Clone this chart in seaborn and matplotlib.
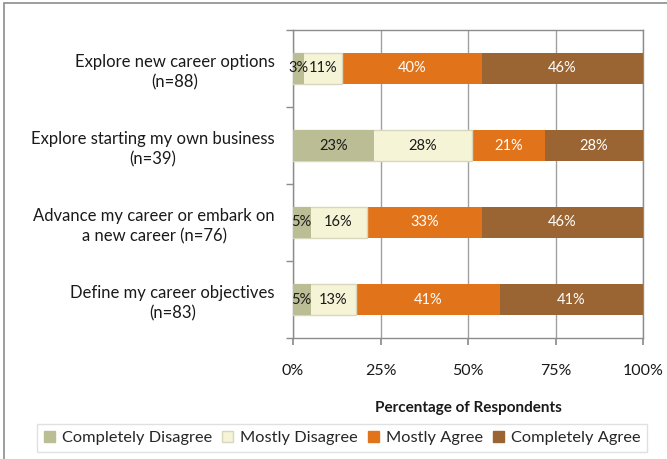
import numpy as np
import pandas as pd
import matplotlib
matplotlib.use('Agg')
import matplotlib.pyplot as plt
import seaborn as sns
from matplotlib.patches import Rectangle

# data
categories = [
    'Explore new career options\n(n=88)',
    'Explore starting my own business\n(n=39)',
    'Advance my career or embark on\na new career (n=76)',
    'Define my career objectives\n(n=83)',
]
responses = ['Completely Disagree', 'Mostly Disagree', 'Mostly Agree', 'Completely Agree']
completely_disagree = [3, 23, 5, 5]
mostly_disagree = [11, 28, 16, 13]
mostly_agree = [40, 21, 33, 41]
completely_agree = [46, 28, 46, 41]
x_ticks = [0, 25, 50, 75, 100]

colors = ['#BBBE94', '#F5F4D6', '#E1731B', '#9A6533']
text_colors = ['#1A1A1A', '#1A1A1A', 'white', 'white']

sns.set_theme(style='white')
plt.rcParams['font.family'] = ['Lato', 'DejaVu Sans']

df = pd.DataFrame({
    'category': categories,
    responses[0]: completely_disagree,
    responses[1]: mostly_disagree,
    responses[2]: mostly_agree,
    responses[3]: completely_agree,
})
cum = df[responses].cumsum(axis=1)

fig = plt.figure(figsize=(6.67, 4.59), dpi=100)
ax = fig.add_axes([293 / 667, 1 - 338 / 459, 350 / 667, 308 / 459])

# stacked bars: draw cumulative totals from the widest layer down
for i in range(len(responses) - 1, -1, -1):
    edge = '#D8D7BE' if i == 1 else 'none'
    sns.barplot(x=cum[responses[i]], y=df['category'], orient='h', color=colors[i],
                width=0.4, ax=ax, saturation=1, edgecolor=edge, linewidth=1 if i == 1 else 0,
                zorder=3)

# segment labels
for i, r in enumerate(responses):
    for j, v in enumerate(df[r]):
        center = cum[r].iloc[j] - v / 2
        ax.text(center, j, f'{v}%', ha='center', va='center', fontsize=10.5,
                color=text_colors[i], zorder=5)

ax.set_xlim(0, 100)
ax.set_ylim(3.5, -0.5)
ax.set_xticks(x_ticks)
ax.set_xticklabels([f'{t}%' for t in x_ticks], fontsize=11.5, color='#1A1A1A')
ax.grid(axis='x', color='#A0A0A0', linewidth=1, zorder=0)
ax.set_axisbelow(True)
ax.set_ylabel('')
ax.set_xlabel('Percentage of Respondents', fontsize=11, fontweight='bold',
              color='#1A1A1A', labelpad=16)

ax.set_yticks(np.arange(len(categories)))
ax.set_yticklabels(categories, fontsize=12, color='#1A1A1A', linespacing=1.35)
for t in ax.get_yticklabels():
    t.set_multialignment('center')
ax.set_yticks(np.arange(-0.5, len(categories)), minor=True)
ax.tick_params(axis='y', which='major', length=0, pad=13)
ax.tick_params(axis='y', which='minor', length=5, color='#8C8C8C', left=True)
ax.tick_params(axis='x', length=5, color='#8C8C8C', bottom=True, pad=14)

for s in ax.spines.values():
    s.set_color('#8C8C8C')
    s.set_linewidth(1)

handles = [Rectangle((0, 0), 1, 1, facecolor=c,
                     edgecolor='#D8D7BE' if k == 1 else c) for k, c in enumerate(colors)]
fig.legend(handles, responses, loc='center', ncol=4,
           bbox_to_anchor=(342 / 667, 1 - 438 / 459), fontsize=11.8,
           frameon=True, fancybox=False, edgecolor='#D9D9D9', handlelength=0.7,
           handleheight=0.7, handletextpad=0.4, columnspacing=0.6, borderpad=0.4)

# outer chart border (cut at the right and bottom)
fig.add_artist(Rectangle((4 / 667, -0.1), 1.2, 1 - 3 / 459 + 0.1, transform=fig.transFigure,
                         fill=False, edgecolor='#8C8C8C', linewidth=1.2))

fig.savefig('out.png', dpi=100)
